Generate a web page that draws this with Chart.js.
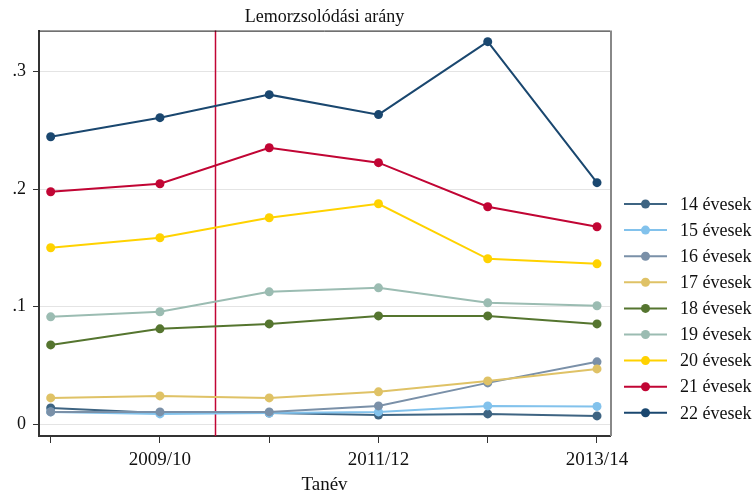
<!DOCTYPE html>
<html>
<head>
<meta charset="utf-8">
<script src="https://cdn.jsdelivr.net/npm/chart.js@4"></script>
<style>
  html, body { margin: 0; padding: 0; background: #fff; }
  #wrap { width: 756px; height: 496px; }
</style>
</head>
<body>
<div id="wrap"><canvas id="myChart" width="756" height="496"></canvas></div>
<script>
const years = ["2008/09", "2009/10", "2010/11", "2011/12", "2012/13", "2013/14"];
const yTicks = [0, 0.1, 0.2, 0.3];
const cutYear = 2.5; // vertical marker between 2009/10 and 2010/11

const labels = ["14 évesek", "15 évesek", "16 évesek", "17 évesek", "18 évesek",
                "19 évesek", "20 évesek", "21 évesek", "22 évesek"];
const colors = ["#3e6482", "#82c2ec", "#7a90a8", "#dfc266", "#55752f",
                "#9bbcb2", "#ffd200", "#c10534", "#1a476f"];

const age14 = [0.0139, 0.0096, 0.0096, 0.0079, 0.0088, 0.0071];
const age15 = [0.0105, 0.0088, 0.0096, 0.0105, 0.0156, 0.0152];
const age16 = [0.0105, 0.0105, 0.0105, 0.0156, 0.0352, 0.0531];
const age17 = [0.0224, 0.0241, 0.0224, 0.0276, 0.0369, 0.0471];
const age18 = [0.0675, 0.0812, 0.0854, 0.0922, 0.0922, 0.0854];
const age19 = [0.0914, 0.0957, 0.1127, 0.1161, 0.1033, 0.1008];
const age20 = [0.1502, 0.1587, 0.1757, 0.1876, 0.1408, 0.1365];
const age21 = [0.1979, 0.2047, 0.2353, 0.2226, 0.1851, 0.1681];
const age22 = [0.2447, 0.2609, 0.2805, 0.2635, 0.3256, 0.2056];

const series = [age14, age15, age16, age17, age18, age19, age20, age21, age22];
const serif = "'Liberation Serif', 'Times New Roman', serif";

const datasets = series.map((vals, i) => ({
  label: labels[i],
  data: vals.map((v, j) => ({ x: j + 1, y: v })),
  borderColor: colors[i],
  backgroundColor: colors[i],
  borderWidth: 2,
  pointRadius: 4.5,
  pointHoverRadius: 4.5,
  pointBorderWidth: 0,
  tension: 0,
  order: series.length - i
}));

// red vertical marker line
const cutLine = {
  id: "cutLine",
  beforeDatasetsDraw(chart) {
    const { ctx, chartArea, scales } = chart;
    const x = Math.round(scales.x.getPixelForValue(cutYear)) + 0.5;
    ctx.save();
    ctx.strokeStyle = "#c10534";
    ctx.lineWidth = 1.5;
    ctx.beginPath();
    ctx.moveTo(x, chartArea.top);
    ctx.lineTo(x, chartArea.bottom);
    ctx.stroke();
    ctx.restore();
  }
};

// top and right frame edges
const frame = {
  id: "frame",
  afterDatasetsDraw(chart) {
    const { ctx, chartArea: a } = chart;
    ctx.save();
    ctx.strokeStyle = "#111";
    ctx.lineWidth = 1;
    ctx.beginPath();
    ctx.moveTo(a.left, a.top + 0.5);
    ctx.lineTo(a.right, a.top + 0.5);
    ctx.stroke();
    ctx.strokeStyle = "#888";
    ctx.lineWidth = 2;
    ctx.beginPath();
    ctx.moveTo(a.right + 1, a.top);
    ctx.lineTo(a.right + 1, a.bottom);
    ctx.stroke();
    ctx.restore();
  }
};

// legend with line + dot keys on the right
const sideLegend = {
  id: "sideLegend",
  afterDraw(chart) {
    const ctx = chart.ctx;
    const x0 = 624, x1 = 667, tx = 680;
    const y0 = 204, step = 26.1;
    ctx.save();
    ctx.font = "18px " + serif;
    ctx.textBaseline = "middle";
    ctx.fillStyle = "#111";
    chart.data.datasets.forEach((ds, i) => {
      const y = y0 + i * step;
      ctx.strokeStyle = ds.borderColor;
      ctx.lineWidth = 2;
      ctx.beginPath();
      ctx.moveTo(x0, y);
      ctx.lineTo(x1, y);
      ctx.stroke();
      ctx.fillStyle = ds.borderColor;
      ctx.beginPath();
      ctx.arc((x0 + x1) / 2, y, 4.5, 0, Math.PI * 2);
      ctx.fill();
      ctx.fillStyle = "#111";
      ctx.fillText(ds.label, tx, y + 1);
    });
    ctx.restore();
  }
};

const ctx = document.getElementById("myChart").getContext("2d");

const chart = new Chart(ctx, {
  type: "line",
  data: { datasets },
  options: {
    responsive: false,
    animation: false,
    layout: { padding: { left: 0, right: 146, top: 0, bottom: 0 } },
    plugins: {
      legend: { display: false },
      tooltip: { enabled: false },
      title: {
        display: true,
        text: "Lemorzsolódási arány",
        fullSize: false,
        color: "#111",
        font: { family: serif, size: 18, weight: "normal" },
        padding: { top: 6, bottom: 3 }
      }
    },
    scales: {
      x: {
        type: "linear",
        min: 0.893,
        max: 6.119,
        afterBuildTicks: axis => { axis.ticks = years.map((y, i) => ({ value: i + 1 })); },
        afterFit: axis => { axis.height = 60; },
        grid: {
          drawOnChartArea: false,
          tickLength: 7,
          tickColor: "#333",
          tickWidth: 1
        },
        border: { display: true, color: "#333", width: 2 },
        ticks: {
          autoSkip: false,
          maxRotation: 0,
          padding: 6,
          color: "#111",
          font: { family: serif, size: 19 },
          callback: v => (v % 2 === 0 ? years[v - 1] : "")
        },
        title: {
          display: true,
          text: "Tanév",
          color: "#111",
          font: { family: serif, size: 19 },
          padding: { top: 0, bottom: 0 }
        }
      },
      y: {
        min: -0.01,
        max: 0.335,
        afterBuildTicks: axis => { axis.ticks = yTicks.map(v => ({ value: v })); },
        afterFit: axis => { axis.width = 39; },
        grid: {
          color: "#e4e4e4",
          lineWidth: 1,
          tickLength: 6,
          tickColor: "#333",
          drawTicks: true
        },
        border: { display: true, color: "#333", width: 2 },
        ticks: {
          padding: 7,
          color: "#111",
          font: { family: serif, size: 18 },
          callback: v => (v === 0 ? "0" : v.toFixed(1).replace(/^0/, ""))
        }
      }
    }
  },
  plugins: [cutLine, frame, sideLegend]
});
</script>
</body>
</html>
